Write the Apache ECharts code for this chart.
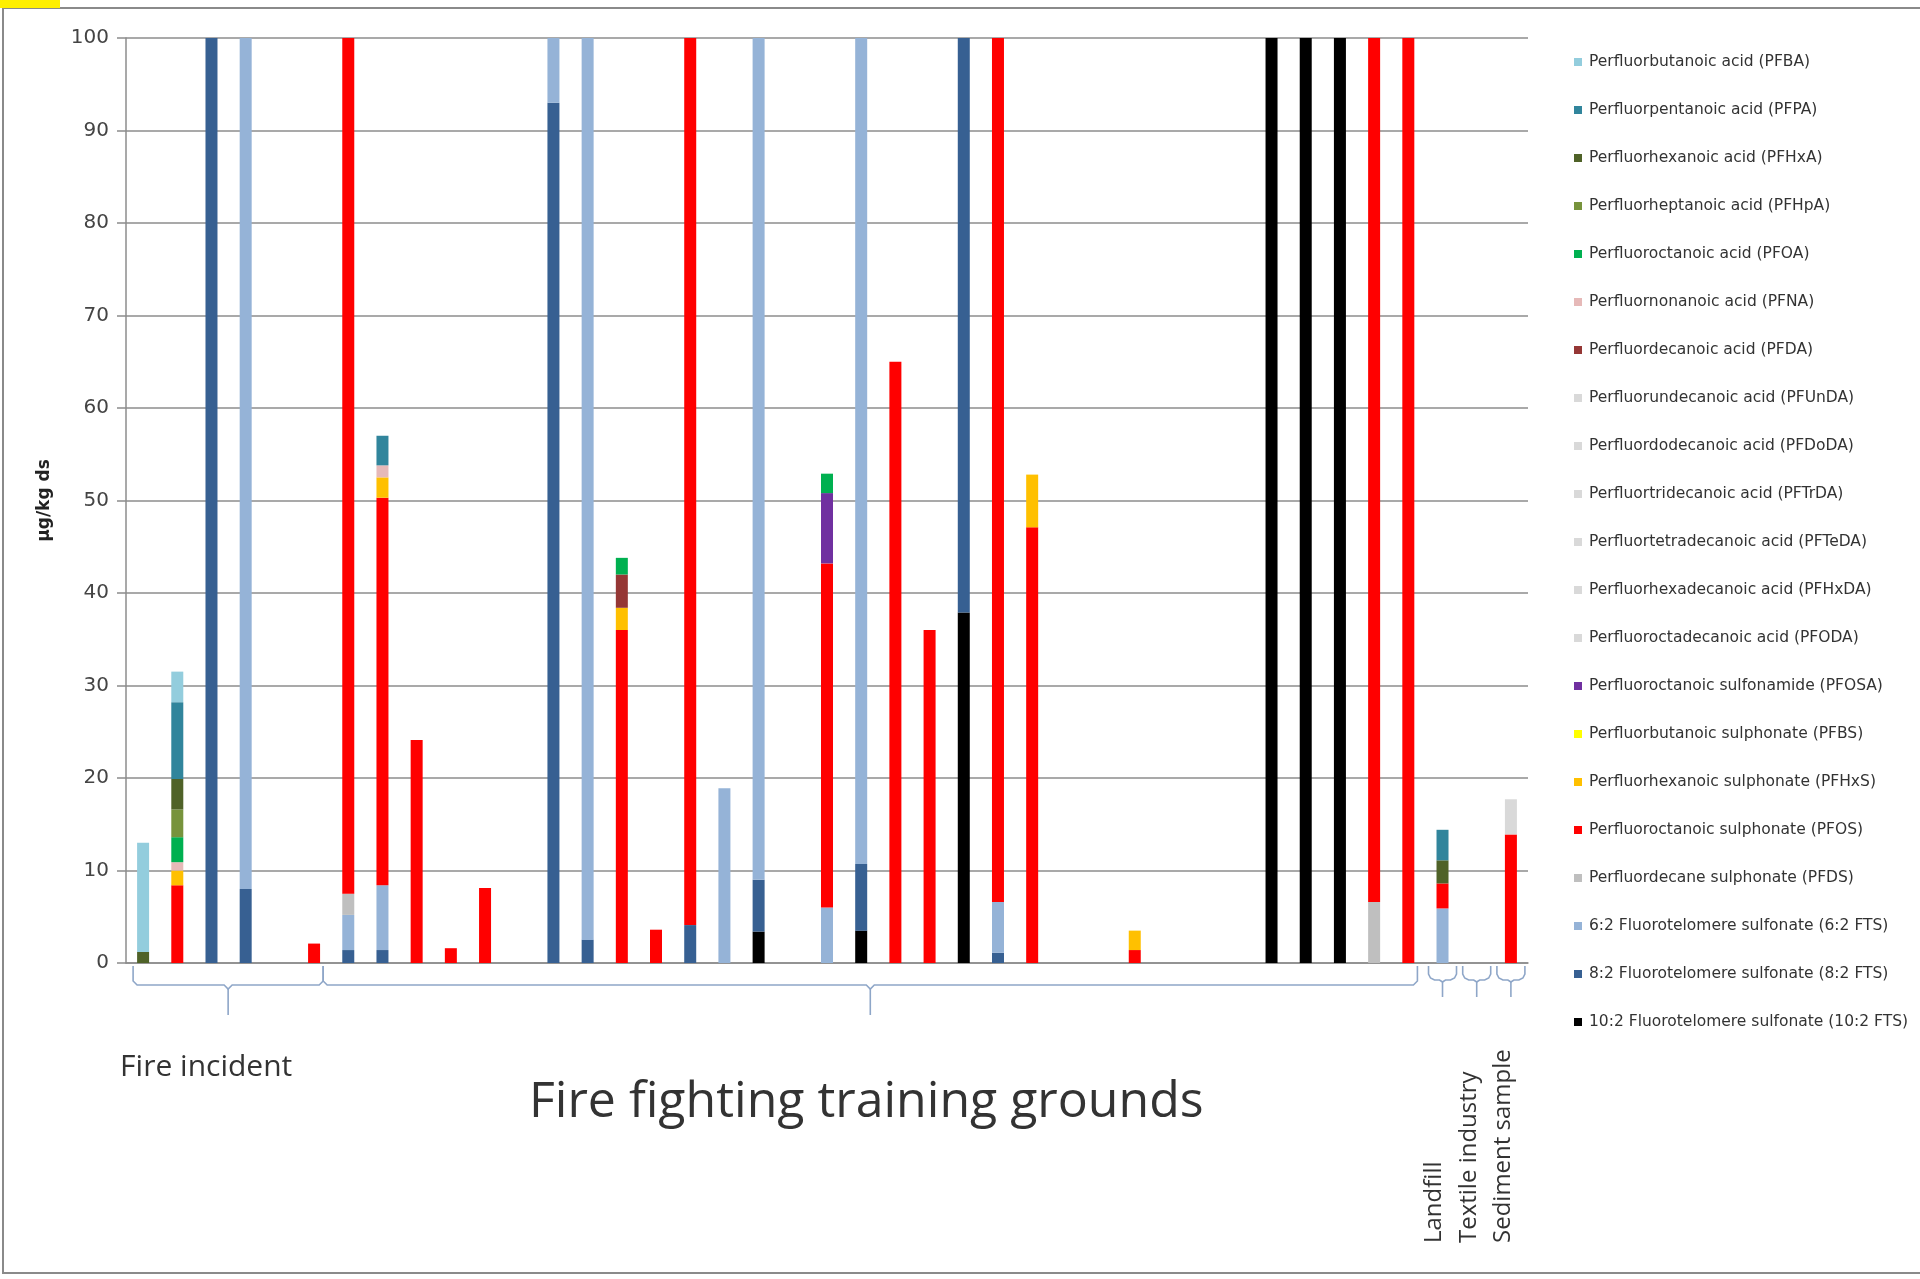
<!DOCTYPE html>
<html>
<head>
<meta charset="utf-8">
<script src="https://cdn.jsdelivr.net/npm/echarts@6/dist/echarts.min.js"></script>
<style>
html,body{margin:0;padding:0;background:#fff;}
#chart{width:1920px;height:1279px;}
</style>
</head>
<body>
<div id="chart"></div>
<script>
// ---------- DATA ----------
const categories = ['1','2','3','4','5','6','7','8','9','10','11','12','13','14','15','16','17','18','19','20','21','22','23','24','25','26','27','28','29','30','31','32','33','34','35','36','37','38','39','40','41'];
const yTicks = [0,10,20,30,40,50,60,70,80,90,100];

// stacked from bottom (10:2 FTS) to top (PFBA); values in µg/kg ds
const fts102 = [0,0,0,0,0,0,0,0,0,0,0,0,0,0,0,0,0,0,3.4,0,0,3.5,0,0,37.9,0,0,0,0,0,0,0,0,100,100,100,0,0,0,0,0];
const fts82  = [0,0,100,8.0,0,0,1.4,1.4,0,0,0,0,93,2.5,0,0,4.1,0,5.6,0,0,7.2,0,0,62.1,1.1,0,0,0,0,0,0,0,0,0,0,0,0,0,0,0];
const fts62  = [0,0,0,92,0,0,3.8,7.0,0,0,0,0,7,97.5,0,0,0,18.9,91.0,0,6.0,89.3,0,0,0,5.5,0,0,0,0,0,0,0,0,0,0,0,0,5.9,0,0];
const pfds   = [0,0,0,0,0,0,2.3,0,0,0,0,0,0,0,0,0,0,0,0,0,0,0,0,0,0,0,0,0,0,0,0,0,0,0,0,0,6.6,0,0,0,0];
const pfos   = [0,8.4,0,0,0,2.1,92.5,41.9,24.1,1.6,8.1,0,0,0,36.0,3.6,95.9,0,0,0,37.2,0,65,36,0,93.4,47.1,0,0,1.4,0,0,0,0,0,0,93.4,100,2.7,0,13.9];
const pfhxs  = [0,1.6,0,0,0,0,0,2.2,0,0,0,0,0,0,2.4,0,0,0,0,0,0,0,0,0,0,0,5.7,0,0,2.1,0,0,0,0,0,0,0,0,0,0,0];
const pfbs   = [0,0,0,0,0,0,0,0,0,0,0,0,0,0,0,0,0,0,0,0,0,0,0,0,0,0,0,0,0,0,0,0,0,0,0,0,0,0,0,0,0];
const pfosa  = [0,0,0,0,0,0,0,0,0,0,0,0,0,0,0,0,0,0,0,0,7.6,0,0,0,0,0,0,0,0,0,0,0,0,0,0,0,0,0,0,0,0];
const pfoda  = [0,0,0,0,0,0,0,0,0,0,0,0,0,0,0,0,0,0,0,0,0,0,0,0,0,0,0,0,0,0,0,0,0,0,0,0,0,0,0,0,0];
const pfhxda = [0,0,0,0,0,0,0,0,0,0,0,0,0,0,0,0,0,0,0,0,0,0,0,0,0,0,0,0,0,0,0,0,0,0,0,0,0,0,0,0,0];
const pfteda = [0,0,0,0,0,0,0,0,0,0,0,0,0,0,0,0,0,0,0,0,0,0,0,0,0,0,0,0,0,0,0,0,0,0,0,0,0,0,0,0,0];
const pftrda = [0,0,0,0,0,0,0,0,0,0,0,0,0,0,0,0,0,0,0,0,0,0,0,0,0,0,0,0,0,0,0,0,0,0,0,0,0,0,0,0,0];
const pfdoda = [0,0,0,0,0,0,0,0,0,0,0,0,0,0,0,0,0,0,0,0,0,0,0,0,0,0,0,0,0,0,0,0,0,0,0,0,0,0,0,0,0];
const pfunda = [0,0,0,0,0,0,0,0,0,0,0,0,0,0,0,0,0,0,0,0,0,0,0,0,0,0,0,0,0,0,0,0,0,0,0,0,0,0,0,0,3.8];
const pfda   = [0,0,0,0,0,0,0,0,0,0,0,0,0,0,3.6,0,0,0,0,0,0,0,0,0,0,0,0,0,0,0,0,0,0,0,0,0,0,0,0,0,0];
const pfna   = [0,0.9,0,0,0,0,0,1.3,0,0,0,0,0,0,0,0,0,0,0,0,0,0,0,0,0,0,0,0,0,0,0,0,0,0,0,0,0,0,0,0,0];
const pfoa   = [0,2.7,0,0,0,0,0,0,0,0,0,0,0,0,1.8,0,0,0,0,0,2.1,0,0,0,0,0,0,0,0,0,0,0,0,0,0,0,0,0,0,0,0];
const pfhpa  = [0,3.0,0,0,0,0,0,0,0,0,0,0,0,0,0,0,0,0,0,0,0,0,0,0,0,0,0,0,0,0,0,0,0,0,0,0,0,0,0,0,0];
const pfhxa  = [1.2,3.3,0,0,0,0,0,0,0,0,0,0,0,0,0,0,0,0,0,0,0,0,0,0,0,0,0,0,0,0,0,0,0,0,0,0,0,0,2.5,0,0];
const pfpa   = [0,8.3,0,0,0,0,0,3.2,0,0,0,0,0,0,0,0,0,0,0,0,0,0,0,0,0,0,0,0,0,0,0,0,0,0,0,0,0,0,3.3,0,0];
const pfba   = [11.8,3.3,0,0,0,0,0,0,0,0,0,0,0,0,0,0,0,0,0,0,0,0,0,0,0,0,0,0,0,0,0,0,0,0,0,0,0,0,0,0,0];

const seriesNames = [
  '10:2 Fluorotelomere sulfonate (10:2 FTS)',
  '8:2 Fluorotelomere sulfonate (8:2 FTS)',
  '6:2 Fluorotelomere sulfonate (6:2 FTS)',
  'Perfluordecane sulphonate (PFDS)',
  'Perfluoroctanoic sulphonate (PFOS)',
  'Perfluorhexanoic sulphonate (PFHxS)',
  'Perfluorbutanoic sulphonate (PFBS)',
  'Perfluoroctanoic sulfonamide (PFOSA)',
  'Perfluoroctadecanoic acid (PFODA)',
  'Perfluorhexadecanoic acid (PFHxDA)',
  'Perfluortetradecanoic acid (PFTeDA)',
  'Perfluortridecanoic acid (PFTrDA)',
  'Perfluordodecanoic acid (PFDoDA)',
  'Perfluorundecanoic acid (PFUnDA)',
  'Perfluordecanoic acid (PFDA)',
  'Perfluornonanoic acid (PFNA)',
  'Perfluoroctanoic acid (PFOA)',
  'Perfluorheptanoic acid (PFHpA)',
  'Perfluorhexanoic acid (PFHxA)',
  'Perfluorpentanoic acid (PFPA)',
  'Perfluorbutanoic acid (PFBA)'
];
const seriesValues = [fts102, fts82, fts62, pfds, pfos, pfhxs, pfbs, pfosa, pfoda, pfhxda, pfteda, pftrda, pfdoda, pfunda, pfda, pfna, pfoa, pfhpa, pfhxa, pfpa, pfba];
const seriesColors = ['#000000','#376092','#95B3D7','#BFBFBF','#FF0000','#FFC000','#FFFF00','#7030A0','#D9D9D9','#D9D9D9','#D9D9D9','#D9D9D9','#D9D9D9','#D9D9D9','#953735','#E6B9B8','#00B050','#77933C','#4F6228','#31859C','#93CDDD'];

const groups = [
  {name:'Fire incident', from:0, to:5, kind:'big'},
  {name:'Fire fighting training grounds', from:6, to:37, kind:'big'},
  {name:'Landfill', from:38, to:38, kind:'small'},
  {name:'Textile industry', from:39, to:39, kind:'small'},
  {name:'Sediment sample', from:40, to:40, kind:'small'}
];

// ---------- CHART ----------
const chart = echarts.init(document.getElementById('chart'), null, {renderer:'canvas'});
const gridColor = '#8c8c8c';

const series = seriesNames.map((n, k) => ({
  name: n,
  type: 'bar',
  stack: 'total',
  barWidth: 12,
  data: seriesValues[k],
  itemStyle: {color: seriesColors[k]},
  emphasis: {disabled: true}
}));

chart.setOption({
  animation: false,
  backgroundColor: '#ffffff',
  grid: {left: 126, top: 38, width: 1402, height: 925, containLabel: false},
  xAxis: {
    type: 'category',
    data: categories,
    axisLine: {show: true, lineStyle: {color: gridColor, width: 1.5}},
    axisTick: {show: false},
    axisLabel: {show: false},
    splitLine: {show: false}
  },
  yAxis: {
    type: 'value',
    min: yTicks[0], max: yTicks[yTicks.length-1], interval: 10,
    name: 'µg/kg ds',
    nameLocation: 'middle',
    nameRotate: 90,
    nameGap: 73,
    nameTextStyle: {fontFamily: 'DejaVu Sans', fontWeight: 'bold', fontSize: 17, color: '#222'},
    axisLine: {show: true, lineStyle: {color: gridColor, width: 1.5}},
    axisTick: {show: true, length: 9, lineStyle: {color: gridColor, width: 1.5}},
    axisLabel: {fontFamily: 'DejaVu Sans', fontSize: 20, color: '#444', margin: 17},
    splitLine: {show: true, lineStyle: {color: gridColor, width: 1.5}}
  },
  legend: {
    orient: 'vertical',
    left: 1569,
    top: 49,
    itemWidth: 8,
    itemHeight: 8,
    itemGap: 32,
    icon: 'rect',
    data: seriesNames.slice().reverse(),
    textStyle: {fontFamily: 'DejaVu Sans', fontSize: 15.5, color: '#333', lineHeight: 16, padding: [0,0,0,2]},
    selectedMode: false
  },
  series: series
});

// ---------- ANNOTATIONS (brackets + group labels) ----------
const px = i => chart.convertToPixel({xAxisIndex: 0}, categories[i]);
const y0 = chart.convertToPixel({yAxisIndex: 0}, 0);
const bracketColor = '#8ea6c8';
const graphics = [];

// outer frame and corner tag
graphics.push({type:'rect', shape:{x:3, y:8, width:1940, height:1265}, style:{fill:'none', stroke:'#8a8a8a', lineWidth:2}, silent:true, z:0});
graphics.push({type:'rect', shape:{x:0, y:0, width:60, height:8}, style:{fill:'#FFEF00'}, silent:true});

groups.forEach((g, gi) => {
  let x1, x2;
  if (g.kind === 'big') {
    x1 = g.from === 0 ? px(0) - 10 : (px(g.from - 1) + px(g.from)) / 2 - 8;
    x2 = (px(g.to) + px(g.to + 1)) / 2 - 8;
    const xc = (x1 + x2) / 2;
    const yh = y0 + 22, r = 4;
    graphics.push({type:'polyline', shape:{points:[
      [x1, y0 + 3], [x1, yh - r], [x1 + r, yh], [xc - r, yh], [xc, yh + r],
      [xc + r, yh], [x2 - r, yh], [x2, yh - r], [x2, y0 + 3]
    ]}, style:{stroke: bracketColor, lineWidth: 1.6, fill:'none'}, silent:true});
    graphics.push({type:'line', shape:{x1: xc, y1: yh + r, x2: xc, y2: y0 + 52}, style:{stroke: bracketColor, lineWidth: 1.6}, silent:true});
    if (gi === 0) {
      graphics.push({type:'text', x: px(0) - 23, y: y0 + 104, style:{text: g.name, fontFamily:'Open Sans', fontSize: 30, fill:'#333', align:'left', verticalAlign:'middle'}, silent:true});
    } else {
      graphics.push({type:'text', x: xc - 4, y: y0 + 140, style:{text: g.name, fontFamily:'Open Sans', fontSize: 50, fill:'#333', align:'center', verticalAlign:'middle'}, silent:true});
    }
  } else {
    const c = px(g.from);
    x1 = c - 14; x2 = c + 14;
    const yh = y0 + 17, r = 6;
    graphics.push({type:'polyline', shape:{points:[
      [x1, y0 + 3], [x1, yh - r], [x1 + 2, yh - 2], [x1 + r, yh], [c - 3, yh], [c, yh + 2],
      [c + 3, yh], [x2 - r, yh], [x2 - 2, yh - 2], [x2, yh - r], [x2, y0 + 3]
    ]}, style:{stroke: bracketColor, lineWidth: 1.6, fill:'none'}, silent:true});
    graphics.push({type:'line', shape:{x1: c, y1: yh + 2, x2: c, y2: y0 + 34}, style:{stroke: bracketColor, lineWidth: 1.6}, silent:true});
    graphics.push({type:'text', x: c - 8, y: y0 + 280, rotation: Math.PI / 2, style:{text: g.name, fontFamily:'Open Sans', fontSize: 24, fill:'#333', align:'left', verticalAlign:'middle'}, silent:true});
  }
});

chart.setOption({graphic: graphics});
</script>
</body>
</html>
